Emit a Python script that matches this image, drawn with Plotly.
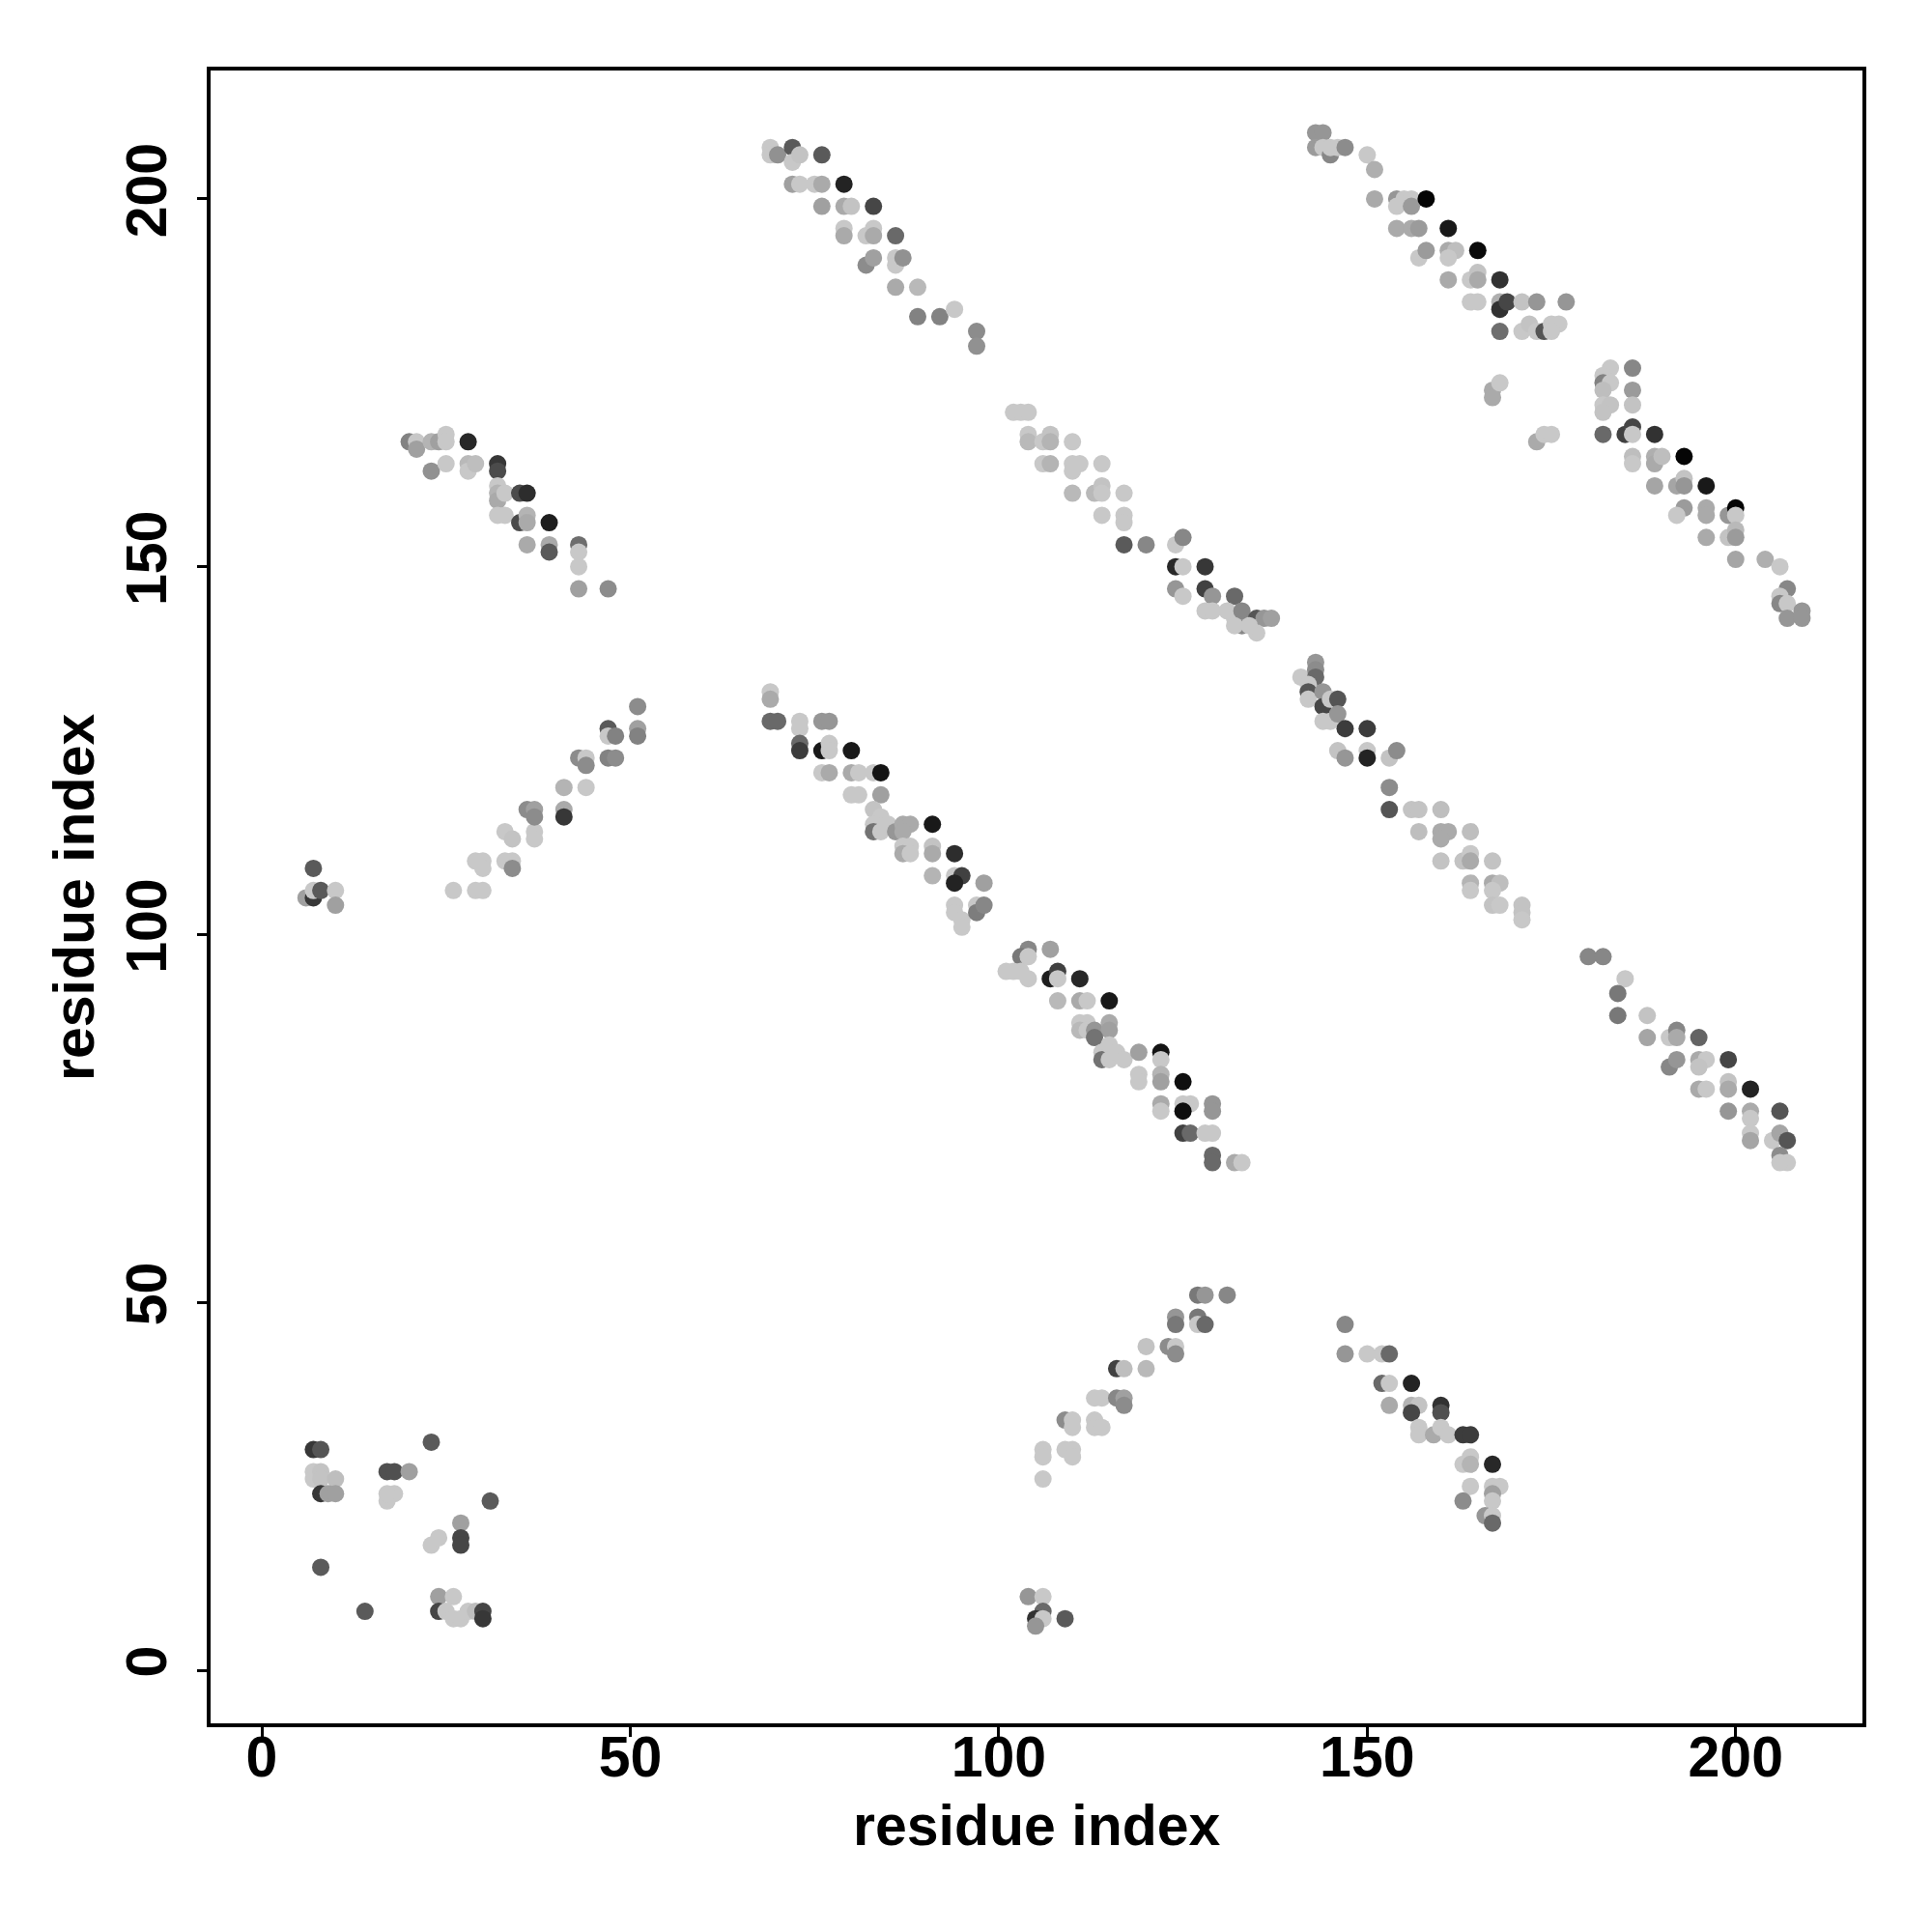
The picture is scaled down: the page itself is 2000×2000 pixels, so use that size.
import plotly.graph_objects as go

# Each cluster: (residue_i, residue_j, gray level 0=black .. 255=white)
cluster_a = [(7,30,55),(8,30,85),(7,27,200),(7,26,200),(8,27,195),(8,26,195),(10,26,190),
             (8,24,55),(9,24,160),(10,24,160),(23,31,90),(17,27,80),(18,27,80),(20,27,160),
             (17,23,200),(18,24,200),(17,24,200),(31,23,90),(27,20,160),(27,18,70),(27,17,70),
             (23,17,200),(24,18,200),(8,14,90),(14,8,90),(24,10,160),(24,8,70),(26,10,200),
             (25,8,200),(26,7,200),(27,7,200),(28,8,200),(29,8,190),(30,8,70),(30,7,55)]
cluster_b = [(7,109,90),(6,105,160),(7,105,55),(7,106,200),(8,106,90),(10,106,200),(10,104,160),
             (26,106,200),(29,106,200),(30,106,200),(29,110,200),(30,110,200),(30,109,200),
             (33,110,200),(34,110,200),(34,109,140),(33,114,200),(34,113,195),(37,114,200),
             (37,113,200),(36,117,140),(37,117,160),(37,116,140),(41,117,170),(41,116,55),
             (41,120,180),(44,120,200),(43,124,140),(44,124,200),(44,123,140),(47,124,130),
             (48,124,140),(47,128,90),(47,127,200),(48,127,130),(51,128,160),(51,127,130),(51,131,140)]
cluster_c = [(20,167,130),(21,167,200),(21,166,160),(23,167,180),(24,167,160),(25,168,200),(25,167,200),
             (28,167,40),(23,163,145),(25,164,200),(28,164,185),(28,163,200),(29,164,190),
             (32,164,55),(32,163,75),(32,161,200),(32,160,180),(32,159,170),(33,160,200),
             (35,160,75),(36,160,45),(32,157,200),(33,157,200),(35,156,75),(36,157,180),(36,156,170),
             (39,156,30),(36,153,170),(39,153,170),(39,152,90),(43,153,110),(43,152,200),
             (43,150,200),(43,147,160),(47,147,140)]
cluster_d = [(69,207,200),(69,206,200),(70,206,145),(72,207,90),(72,205,200),(73,206,195),(76,206,90),
             (72,202,160),(73,202,200),(75,202,200),(76,202,170),(79,202,35),(76,199,160),(79,199,170),
             (80,199,195),(83,199,70),(79,196,200),(79,195,170),(82,195,200),(83,196,200),(83,195,170),
             (86,195,105),(82,191,140),(83,192,160),(86,192,200),(86,191,200),(87,192,145),
             (86,188,170),(89,188,185),(89,184,130),(92,184,130),(94,185,200),(97,182,140),(97,180,145)]
cluster_e = [(69,133,200),(69,132,170),(69,129,105),(70,129,105),(73,129,200),(73,128,200),(76,129,150),
             (77,129,150),(73,126,105),(73,125,60),(76,125,25),(77,126,200),(77,125,200),(80,125,25),
             (76,122,200),(77,122,170),(80,122,170),(81,122,200),(83,122,200),(84,122,20),
             (80,119,200),(81,119,200),(84,119,160),(83,117,195),(84,116,200),(83,115,200),
             (83,114,115),(84,114,200),(85,115,200),(86,114,150),(87,115,170),(88,115,170),(87,114,170),
             (87,112,200),(88,112,200),(87,111,170),(88,111,200),(91,115,25),(91,112,195),(91,111,170),
             (94,111,45),(91,108,180),(94,108,200),(95,108,65),(94,107,35),(98,107,160),
             (94,104,200),(94,103,200),(95,102,200),(95,101,200),(97,104,200),(97,103,125),(98,104,135)]
cluster_f = [(102,171,200),(103,171,200),(104,171,200),(104,168,200),(104,167,185),(106,167,200),
             (107,168,195),(107,167,180),(110,167,200),(106,164,200),(107,164,180),(110,164,200),
             (110,163,200),(111,164,200),(114,164,200),(110,160,185),(113,160,185),(114,161,195),
             (114,160,200),(117,160,200),(114,157,200),(117,157,200),(117,156,200),(117,153,90),
             (120,153,135),(124,153,200),(125,154,135),(124,150,40),(125,150,200),(128,150,55),
             (124,147,150),(125,146,200),(128,147,65),(129,146,150),(128,144,200),(129,144,200),
             (132,146,105),(131,144,200),(132,143,200),(133,144,135),(133,142,135),(135,143,85),
             (136,143,150),(137,143,160),(132,142,200),(135,141,200),(134,142,200)]
cluster_g = [(104,98,135),(103,97,120),(104,97,200),(107,98,160),(101,95,200),(102,95,200),(103,95,200),
             (104,94,200),(107,94,30),(108,95,65),(108,94,200),(111,94,40),(108,91,185),(111,91,170),
             (112,91,200),(115,91,25),(111,88,200),(112,88,200),(111,87,185),(112,87,200),(113,87,150),
             (115,88,170),(115,87,160),(113,86,115),(114,84,200),(114,83,115),(115,85,200),(115,83,200),
             (116,84,200),(117,83,200),(119,84,160),(122,84,20),(122,83,200),(119,81,200),(119,80,200),
             (122,81,180),(122,80,160),(125,80,15),(122,77,170),(122,76,200),(125,77,200),(126,77,200),
             (125,76,15),(129,77,150),(129,76,150),(125,73,65),(126,73,105),(128,73,200),(129,73,200),
             (129,70,105),(129,69,105),(132,69,170),(133,69,200)]
cluster_h = [(127,51,120),(128,51,150),(131,51,135),(124,48,150),(124,47,120),(127,48,120),(127,47,200),
             (128,47,105),(120,44,195),(123,44,140),(124,44,200),(124,43,140),(116,41,65),(117,41,190),
             (120,41,185),(113,37,200),(114,37,200),(116,37,135),(117,37,160),(117,36,140),
             (109,34,140),(110,34,200),(110,33,200),(113,34,200),(113,33,200),(114,33,200),
             (106,30,200),(106,29,200),(109,30,200),(110,30,200),(110,29,200),(106,26,200),
             (104,10,150),(106,10,200),(106,8,105),(105,7,50),(106,7,200),(105,6,150),(109,7,90)]
cluster_i = [(147,47,135),(147,43,150),(150,43,200),(152,43,200),(153,43,105),(152,39,105),(153,39,200),
             (156,39,35),(153,36,170),(156,36,180),(157,36,195),(156,35,70),(160,36,50),(160,35,80),
             (157,33,200),(157,32,200),(159,32,170),(160,33,200),(161,32,200),(163,32,60),(164,32,60),
             (163,28,200),(164,29,200),(164,28,180),(167,28,40),(164,25,200),(167,25,200),(168,25,200),
             (163,23,140),(167,24,160),(167,23,200),(166,21,150),(167,21,200),(167,20,105)]
cluster_j = [(141,135,200),(143,137,150),(143,136,140),(143,135,105),(142,134,200),(142,133,85),
             (142,132,200),(144,133,150),(144,131,70),(145,132,200),(146,132,85),(144,129,200),
             (145,129,200),(146,130,150),(147,128,60),(150,128,60),(146,125,195),(147,124,150),
             (150,125,200),(150,124,35),(153,124,195),(154,125,140),(153,120,140),(153,117,85),
             (156,117,195),(157,117,195),(160,117,190),(157,114,190),(160,114,170),(161,114,170),
             (160,113,170),(164,114,190),(160,110,195),(163,110,195),(164,111,200),(164,110,170),
             (167,110,195),(164,107,180),(164,106,200),(167,107,170),(168,107,190),(167,106,200),
             (167,104,195),(168,104,200),(171,104,195),(171,103,195),(171,102,200)]
cluster_k = [(143,209,150),(144,209,150),(143,207,155),(144,207,200),(145,206,135),(145,207,200),
             (146,207,200),(147,207,140),(150,206,200),(151,204,175),(151,200,170),(154,200,150),
             (155,200,200),(154,199,200),(156,200,200),(156,199,155),(158,200,5),(154,196,170),
             (156,196,170),(157,196,155),(161,196,25),(157,192,200),(158,193,155),(161,193,170),
             (162,193,190),(161,192,200),(165,193,10),(161,189,170),(164,189,200),(165,190,195),
             (165,189,170),(168,189,50),(164,186,200),(165,186,200),(168,186,175),(168,185,50),
             (169,186,70),(171,186,195),(173,186,150),(177,186,150),(168,182,110),(171,182,200),
             (172,183,195),(173,182,200),(174,182,85),(175,183,200),(176,183,200),(175,182,200),
             (167,174,170),(167,173,170),(168,175,200),(173,167,170),(174,168,200),(175,168,200)]
cluster_l = [(183,177,200),(182,176,200),(182,175,130),(183,175,200),(182,174,190),(186,177,135),
             (186,174,155),(186,172,195),(182,172,200),(183,172,195),(182,171,195),(182,168,105),
             (185,168,65),(186,169,70),(186,168,200),(189,168,50),(186,165,190),(186,164,200),
             (189,165,175),(189,164,170),(190,165,190),(193,165,5),(189,161,165),(192,161,165),
             (193,162,195),(193,161,150),(196,161,25),(193,158,155),(192,157,200),(196,158,170),
             (196,157,170),(199,157,150),(200,158,5),(200,157,200),(196,154,170),(199,154,195),
             (200,155,185),(200,154,155),(200,151,165),(204,151,175),(206,150,200),(207,147,135),
             (206,146,200),(206,145,135),(207,145,200),(207,143,150),(209,144,150),(209,143,150)]
cluster_m = [(180,97,135),(182,97,135),(185,94,200),(184,92,120),(184,89,120),(188,89,195),
             (188,86,165),(191,86,200),(192,87,135),(192,86,170),(195,86,100),(191,82,135),
             (192,83,150),(195,83,170),(196,83,200),(195,82,195),(199,83,70),(195,79,170),
             (196,79,200),(199,80,195),(199,79,170),(202,79,35),(199,76,150),(202,76,170),
             (202,75,200),(206,76,85),(202,73,200),(202,72,165),(205,72,200),(206,73,165),
             (207,72,85),(206,70,140),(207,69,200),(206,69,200)]

clusters = [cluster_a, cluster_b, cluster_c, cluster_d, cluster_e, cluster_f, cluster_g,
            cluster_h, cluster_i, cluster_j, cluster_k, cluster_l, cluster_m]

x_tick_vals = [0, 50, 100, 150, 200]
y_tick_vals = [0, 50, 100, 150, 200]
axis_title = "residue index"

xs, ys, cols = [], [], []
for cl in clusters:
    for (i, j, g) in cl:
        xs.append(i)
        ys.append(j)
        cols.append(f"rgb({g},{g},{g})")

fig = go.Figure()
fig.add_trace(go.Scatter(x=xs, y=ys, mode="markers",
                         marker=dict(size=18, color=cols, line=dict(width=0)),
                         showlegend=False, hoverinfo="x+y"))

font_family = "Liberation Sans, Arial, Helvetica, sans-serif"
tickfont = dict(family=font_family, size=59, color="black", weight="bold")

fig.update_layout(
    width=2000, height=2000,
    margin=dict(l=210, r=80, t=65, b=224),
    paper_bgcolor="white", plot_bgcolor="white",
    xaxis=dict(range=[-6.95, 217.2], tickvals=x_tick_vals, showgrid=False, zeroline=False,
               showline=True, mirror=True, linecolor="black", linewidth=4,
               ticks="outside", ticklen=10, tickwidth=3, tickcolor="black",
               tickfont=tickfont, ticklabelstandoff=-30),
    yaxis=dict(range=[-7.22, 217.46], tickvals=y_tick_vals, showgrid=False, zeroline=False,
               showline=True, mirror=True, linecolor="black", linewidth=4,
               ticks="outside", ticklen=10, tickwidth=3, tickcolor="black",
               tickfont=tickfont, tickangle=-90, ticklabelstandoff=8),
    annotations=[
        dict(text=axis_title, xref="paper", yref="paper", x=0.5, y=-0.0619,
             xanchor="center", yanchor="middle", showarrow=False,
             font=dict(family=font_family, size=59, color="black", weight="bold")),
        dict(text=axis_title, xref="paper", yref="paper", x=-0.0827, y=0.5,
             xanchor="center", yanchor="middle", textangle=-90, showarrow=False,
             font=dict(family=font_family, size=59, color="black", weight="bold")),
    ],
)

fig.write_html("out.html")
